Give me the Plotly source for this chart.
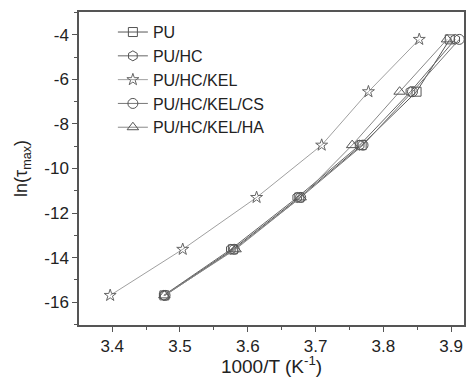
import plotly.graph_objects as go

names = ["PU", "PU/HC", "PU/HC/KEL", "PU/HC/KEL/CS", "PU/HC/KEL/HA"]
y_vals = [-15.7, -13.63, -11.3, -8.95, -6.55, -4.2]
x_pu = [3.477, 3.578, 3.676, 3.768, 3.849, 3.898]
x_pu_hc = [3.476, 3.575, 3.673, 3.765, 3.840, 3.906]
x_pu_hc_kel = [3.397, 3.504, 3.613, 3.709, 3.778, 3.853]
x_pu_hc_kel_cs = [3.478, 3.580, 3.678, 3.770, 3.843, 3.912]
x_pu_hc_kel_ha = [3.477, 3.582, 3.678, 3.754, 3.824, 3.894]

xs = [x_pu, x_pu_hc, x_pu_hc_kel, x_pu_hc_kel_cs, x_pu_hc_kel_ha]
symbols = ["square-open", "hexagon-open", "star-open", "circle-open", "triangle-up-open"]
line_colors = ["#555555", "#666666", "#a0a0a0", "#777777", "#888888"]
marker_colors = ["#555555", "#555555", "#666666", "#555555", "#555555"]
sizes = [9, 10, 9, 10, 10]

fig = go.Figure()
for n, x, s, lc, mc, sz in zip(names, xs, symbols, line_colors, marker_colors, sizes):
    fig.add_trace(go.Scatter(
        x=x, y=y_vals, name=n, mode="lines+markers",
        line=dict(color=lc, width=1),
        marker=dict(symbol=s, size=sz, color=mc, line=dict(width=1, color=mc)),
    ))

axis_common = dict(
    showline=True, linecolor="#555555", linewidth=1.5, mirror=True,
    ticks="outside", ticklen=5, tickwidth=1.2, tickcolor="#555555",
    showgrid=False, zeroline=False,
    tickfont=dict(family="Liberation Sans, Arial", size=17, color="#222222"),
)

fig.update_layout(
    width=467, height=377,
    margin=dict(l=79, r=1, t=12, b=52),
    plot_bgcolor="white", paper_bgcolor="white",
    font=dict(family="Liberation Sans, Arial", size=16, color="#222222"),
    xaxis=dict(range=[3.351, 3.919], tickmode="array",
               tickvals=[3.4, 3.5, 3.6, 3.7, 3.8, 3.9],
               ticktext=["3.4", "3.5", "3.6", "3.7", "3.8", "3.9"],
               minor=dict(tickvals=[3.35, 3.45, 3.55, 3.65, 3.75, 3.85], ticks="outside",
                          ticklen=3, tickcolor="#555555"),
               title=dict(text="1000/T (K<sup>-1</sup>)", font=dict(size=19), standoff=2),
               **axis_common),
    yaxis=dict(range=[-17.03, -2.97], tickmode="array",
               tickvals=[-16, -14, -12, -10, -8, -6, -4],
               ticktext=["-16", "-14", "-12", "-10", "-8", "-6", "-4"],
               minor=dict(tickvals=[-17, -15, -13, -11, -9, -7, -5, -3], ticks="outside",
                          ticklen=3, tickcolor="#555555"),
               title=dict(text="ln(τ<sub>max</sub>)", font=dict(size=18), standoff=12),
               **axis_common),
    legend=dict(x=0.088, y=0.99, xanchor="left", yanchor="top",
                bgcolor="rgba(0,0,0,0)", font=dict(size=16),
                tracegroupgap=0, itemwidth=30),
    showlegend=True,
)

fig.write_html("out.html", config={"displayModeBar": False},
               post_script="document.body.style.margin='0';")
